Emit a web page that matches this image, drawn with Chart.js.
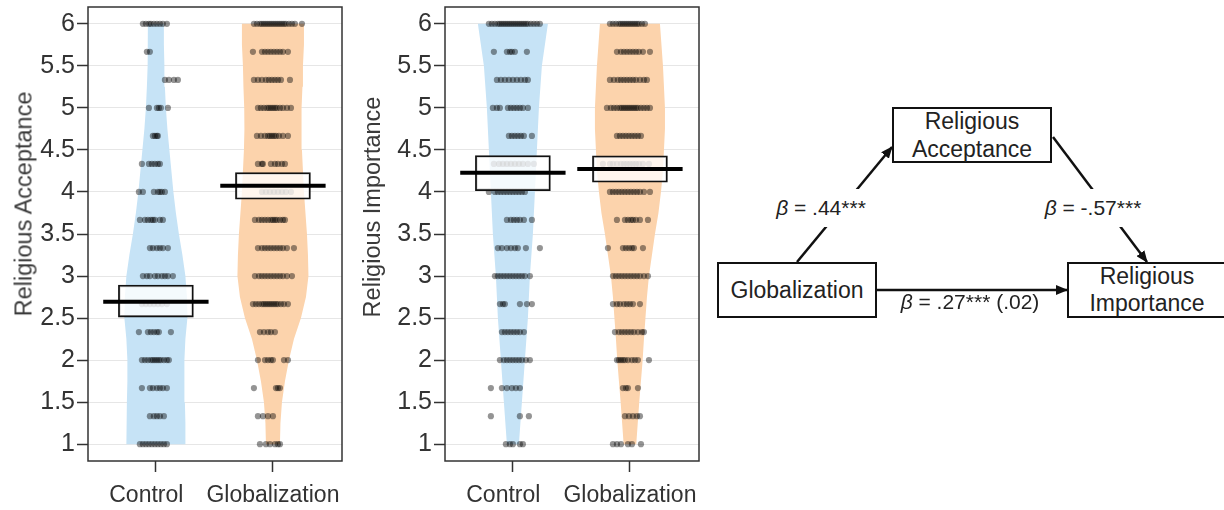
<!DOCTYPE html>
<html><head><meta charset="utf-8">
<script src="https://cdn.jsdelivr.net/npm/chart.js@4.4.1/dist/chart.umd.min.js"></script>
<style>
html,body{margin:0;padding:0;background:#fff;width:1224px;height:510px;overflow:hidden;position:relative;font-family:"Liberation Sans",Arial,sans-serif;}
canvas{position:absolute;top:0}
#c1{left:0}
#c2{left:357px}
.ytitle{position:absolute;transform:translate(-50%,-50%) rotate(-90deg);white-space:nowrap;font-size:23.5px;color:#3a3a3a}
.node{position:absolute;box-sizing:border-box;border:2px solid #111;background:#fff;display:flex;align-items:center;justify-content:center;text-align:center;font-size:23px;line-height:28px;color:#222}
.lab{position:absolute;transform:translate(-50%,-50%);white-space:nowrap;font-size:21px;color:#222}
.lab.bg{background:#fff;padding:7px 2px}
svg{position:absolute;left:0;top:0}
</style></head><body>
<canvas id="c1" width="350" height="510"></canvas>
<canvas id="c2" width="350" height="510"></canvas>
<div class="ytitle" style="left:24px;top:204px">Religious Acceptance</div>
<div class="ytitle" style="left:372px;top:207px">Religious Importance</div>
<svg width="1224" height="510">
<defs><marker id="ah" markerWidth="12" markerHeight="10" refX="11" refY="5" orient="auto" markerUnits="userSpaceOnUse"><path d="M0,0 L12,5 L0,10 z" fill="#111"/></marker></defs>
<line x1="797" y1="262" x2="892" y2="147" stroke="#111" stroke-width="2.5" marker-end="url(#ah)"/>
<line x1="1053" y1="137" x2="1147" y2="262" stroke="#111" stroke-width="2.5" marker-end="url(#ah)"/>
<line x1="877" y1="290" x2="1067" y2="290" stroke="#111" stroke-width="2.5" marker-end="url(#ah)"/>
</svg>
<div class="lab bg" style="left:821px;top:208px"><i>β</i> = .44***</div>
<div class="lab bg" style="left:1093px;top:208px"><i>β</i> = -.57***</div>
<div class="lab" style="left:970px;top:302px"><i>β</i> = .27*** (.02)</div>
<div class="node" style="left:892px;top:107px;width:160px;height:56px">Religious<br>Acceptance</div>
<div class="node" style="left:717px;top:262px;width:160px;height:56px">Globalization</div>
<div class="node" style="left:1067px;top:262px;width:160px;height:56px;line-height:27px">Religious<br>Importance</div>
<script>
// ---------- data ----------
const categories = ['Control', 'Globalization'];
const yTicks = [1, 1.5, 2, 2.5, 3, 3.5, 4, 4.5, 5, 5.5, 6];
// response levels (top to bottom) used for the raw data points
const levels = [6, 5.667, 5.333, 5, 4.667, 4.333, 4, 3.667, 3.333, 3, 2.667, 2.333, 2, 1.667, 1.333, 1];
// density evaluation heights (bottom to top)
const densityLevels = [1, 1.25, 1.5, 1.75, 2, 2.25, 2.5, 2.75, 3, 3.25, 3.5, 3.75, 4, 4.25, 4.5, 4.75, 5, 5.25, 5.5, 5.75, 6];
// violin half-widths (density, in 1/117 category units)
const accDensityControl = [29.5, 29.5, 29, 28.5, 28.5, 29.5, 31.5, 31, 29.5, 26.5, 23, 20, 17.5, 15.5, 13.5, 11.5, 10, 9, 8.5, 8, 8];
const accDensityGlob    = [7, 7.5, 9, 12, 16, 21, 28, 33, 35.5, 35, 34, 32.5, 31, 30, 29, 28.5, 28.7, 29.5, 30, 31, 31];
const impDensityControl = [6, 7.5, 9, 10.5, 12, 13.5, 15, 16, 17, 18.5, 20, 21, 22, 23, 24, 25, 26, 27.5, 29, 32, 35];
const impDensityGlob    = [6.3, 7.8, 9.3, 11, 12.7, 14, 15.5, 17, 19, 22, 25, 28.5, 31, 33, 34, 35, 35, 34, 33, 31.5, 30];
// raw responses: jitter offsets per level (1/117 category units), levels top to bottom
const accJitterControl = [
 [-13,-10,-7,-5,-2,1,4,7,11],[-9,-6],[9,13,18,22],[-7,1,3,5,12],[-3,-1,1,2],[-14,-7,-4,-1,2,4],
 [-17,-13,-2,2,4,6,9],[-16,-11,-8,-5,-3,-1,4,7],[-6,-3,1,4,7,12],[-13,-9,-6,-1,2,6,9,12,17],
 [-14,-10,-6,-2,2,6,11],[-17,-8,-5,-2,1,3,15],[-14,-11,-8,-5,-3,-1,1,3,5,8,11,13],[-14,-6,-3,1,4,7,11],
 [-6,-2,1,4,8],[-16,-13,-10,-7,-4,-1,2,5,8,11]];
const accJitterGlob = [
 [-19,-16,-13,-11,-9,-7,-5,-3,-1,1,3,5,7,9,11,13,16,19,22,29],[-20,-11,-8,-5,-2,1,4,7,10,15],
 [-19,-15,-11,-7,-4,-1,2,5,8,17],[-15,-12,-9,-6,-4,-2,0,2,4,7,10,14,18],[-16,-12,-8,-5,-3,-1,1,3,6,10,15],
 [-15,-11,-10,-2,2,5,9,12],[-11,-7,-3,1,5,9,13,18],[-18,-14,-11,-8,-5,-2,0,2,4,7,10,12],
 [-15,-11,-8,-5,-2,1,4,7,10,14,21],[-18,-14,-11,-8,-5,-2,1,4,7,10,14,19],
 [-20,-17,-14,-11,-9,-7,-5,-3,-1,1,3,5,8,11,15],[-13,-9,-5,-2,2],[-15,-8,-5,-2,0,11,15],[-19,3,5,7],
 [-15,-10,-5,0],[-13,-7,-3,2,5,7]];
const impJitterControl = [
 [-24,-21,-18,-15,-13,-11,-9,-7,-5,-3,-1,1,3,5,7,9,11,13,15,18,21,24,27],[-19,-6,-3,-1,2,14],
 [-16,-12,-8,-4,0,4,8,12,15],[-20,-16,-13,-5,-2,1,4,7,10,15],[-4,-1,2,5,8,11,19],
 [-19,-14,-10,-6,-2,2,6,10,15,21],[-24,-18,-15,-12,-9,-6,-3,0,3,6,9,12],[-6,-2,1,4,7,11,19],
 [-15,-11,-6,-2,2,5,13,27],[-18,-15,-12,-9,-6,-3,0,3,6,9,12,17],[-13,-10,-8,7,14,19],
 [-11,-8,-5,-2,1,4,7,11],[-13,-9,-6,-3,0,3,6,9,13,17],[-22,-11,-6,-1,3,7],[-22,7,16],[-7,-3,0,7,10]];
const impJitterGlob = [
 [-20,-17,-14,-11,-9,-7,-5,-3,-1,1,3,5,7,9,12,15],[-13,-9,-6,-3,0,3,6,9,13,20],
 [-20,-16,-12,-9,-6,-3,0,3,6,10,14,17],[-23,-19,-16,-13,-10,-8,-6,-4,-2,0,2,4,6,8,11,14,17,20],
 [-13,-10,-7,-4,-1,2,5,8,11],[-27,-20,-17,-13,-9,-6,-3,0,3,6,9,13,19],
 [-20,-17,-14,-11,-8,-5,-2,1,4,7,10,14,20],[-13,-5,-2,1,3,6,10,18],[-22,-7,-4,-1,2,4,13],
 [-17,-14,-11,-8,-5,-2,1,4,7,10,14,18],[-17,-13,-10,-6,-3,0,3,10],[-15,-11,-8,-5,-2,1,4,8,12,14],
 [-13,-11,-9,-7,-5,-2,2,5,8,19],[-7,-4,-2,8],[-5,-1,3,7,10],[-17,-13,-9,-2,2,11]];
// means and 95% HDI bands
const accMeans = [2.694, 4.075];
const accHdiLow = [2.512, 3.913];
const accHdiHigh = [2.893, 4.230];
const impMeans = [4.230, 4.274];
const impHdiLow = [4.015, 4.115];
const impHdiHigh = [4.432, 4.430];

// ---------- rendering ----------
const UNIT = 1 / 117;
const violinColors = ['rgb(198,227,246)', 'rgb(252,211,172)'];
Chart.defaults.font.family = '"Liberation Sans", Arial, sans-serif';

const framePlugin = {
  id: 'frame',
  afterDraw(chart) {
    const {ctx, chartArea: a} = chart;
    ctx.save();
    ctx.strokeStyle = '#333';
    ctx.lineWidth = 1.5;
    ctx.strokeRect(a.left, a.top, a.right - a.left, a.bottom - a.top);
    ctx.restore();
  }
};

function buildPanel(id, densities, jitters, means, lo, hi) {
  const datasets = [];
  densities.forEach((d, i) => {
    const c = i + 1;
    const right = densityLevels.map((v, k) => ({x: c + d[k] * UNIT, y: v}));
    const left = densityLevels.map((v, k) => ({x: c - d[k] * UNIT, y: v})).reverse();
    datasets.push({
      type: 'line', indexAxis: 'y', data: right.concat(left), fill: 'shape',
      backgroundColor: violinColors[i], borderColor: 'rgba(0,0,0,0)', borderWidth: 0,
      pointRadius: 0, tension: 0, order: 10
    });
  });
  jitters.forEach((groups, i) => {
    const pts = [];
    groups.forEach((offs, li) => offs.forEach(o => pts.push({x: i + 1 + o * UNIT, y: levels[li]})));
    datasets.push({
      type: 'scatter', data: pts, pointRadius: 3.1, pointHoverRadius: 3.1,
      backgroundColor: 'rgba(0,0,0,0.42)', borderWidth: 0, order: 5
    });
  });
  datasets.push({
    type: 'bar', data: categories.map((c, i) => ({x: i + 1, y: [lo[i], hi[i]]})),
    barThickness: 75, backgroundColor: 'rgba(255,255,255,0.8)', borderColor: '#111',
    borderWidth: 1.8, borderSkipped: false, order: 2
  });
  means.forEach((m, i) => {
    datasets.push({
      type: 'line', data: [{x: i + 1 - 0.45, y: m}, {x: i + 1 + 0.45, y: m}],
      borderColor: '#000', borderWidth: 4, pointRadius: 0, fill: false, order: 1
    });
  });
  return new Chart(document.getElementById(id), {
    type: 'line',
    data: {datasets},
    options: {
      responsive: false, animation: false, events: [],
      layout: {padding: {left: 0, right: 8, top: 7, bottom: 0}},
      plugins: {legend: {display: false}, tooltip: {enabled: false}},
      scales: {
        x: {
          type: 'linear', min: 0.42, max: 2.59, offset: false,
          afterBuildTicks: s => { s.ticks = categories.map((c, i) => ({value: i + 1})); },
          afterFit: s => { s.height = 49; s.paddingLeft = 0; s.paddingRight = 0; },
          ticks: {
            autoSkip: false, maxRotation: 0, padding: 10, color: '#333', font: {size: 23},
            callback: v => categories[Math.round(v) - 1] + (Math.round(v) === 1 ? '   ' : '')
          },
          grid: {offset: false, drawOnChartArea: false, drawTicks: true, tickLength: 11, tickColor: '#333', tickWidth: 1.5},
          border: {display: false}
        },
        y: {
          type: 'linear', min: 0.8, max: 6.2,
          afterBuildTicks: s => { s.ticks = yTicks.map(v => ({value: v})); },
          afterFit: s => { s.width = 88; s.paddingTop = 0; s.paddingBottom = 0; },
          ticks: {autoSkip: false, padding: 2, color: '#333', font: {size: 25}, callback: v => String(v)},
          grid: {offset: false, color: '#e6e6e6', lineWidth: 1, tickLength: 11, tickColor: '#333', tickWidth: 1.5},
          border: {display: false}
        }
      }
    },
    plugins: [framePlugin]
  });
}

buildPanel('c1', [accDensityControl, accDensityGlob], [accJitterControl, accJitterGlob], accMeans, accHdiLow, accHdiHigh);
buildPanel('c2', [impDensityControl, impDensityGlob], [impJitterControl, impJitterGlob], impMeans, impHdiLow, impHdiHigh);
</script>
</body></html>
